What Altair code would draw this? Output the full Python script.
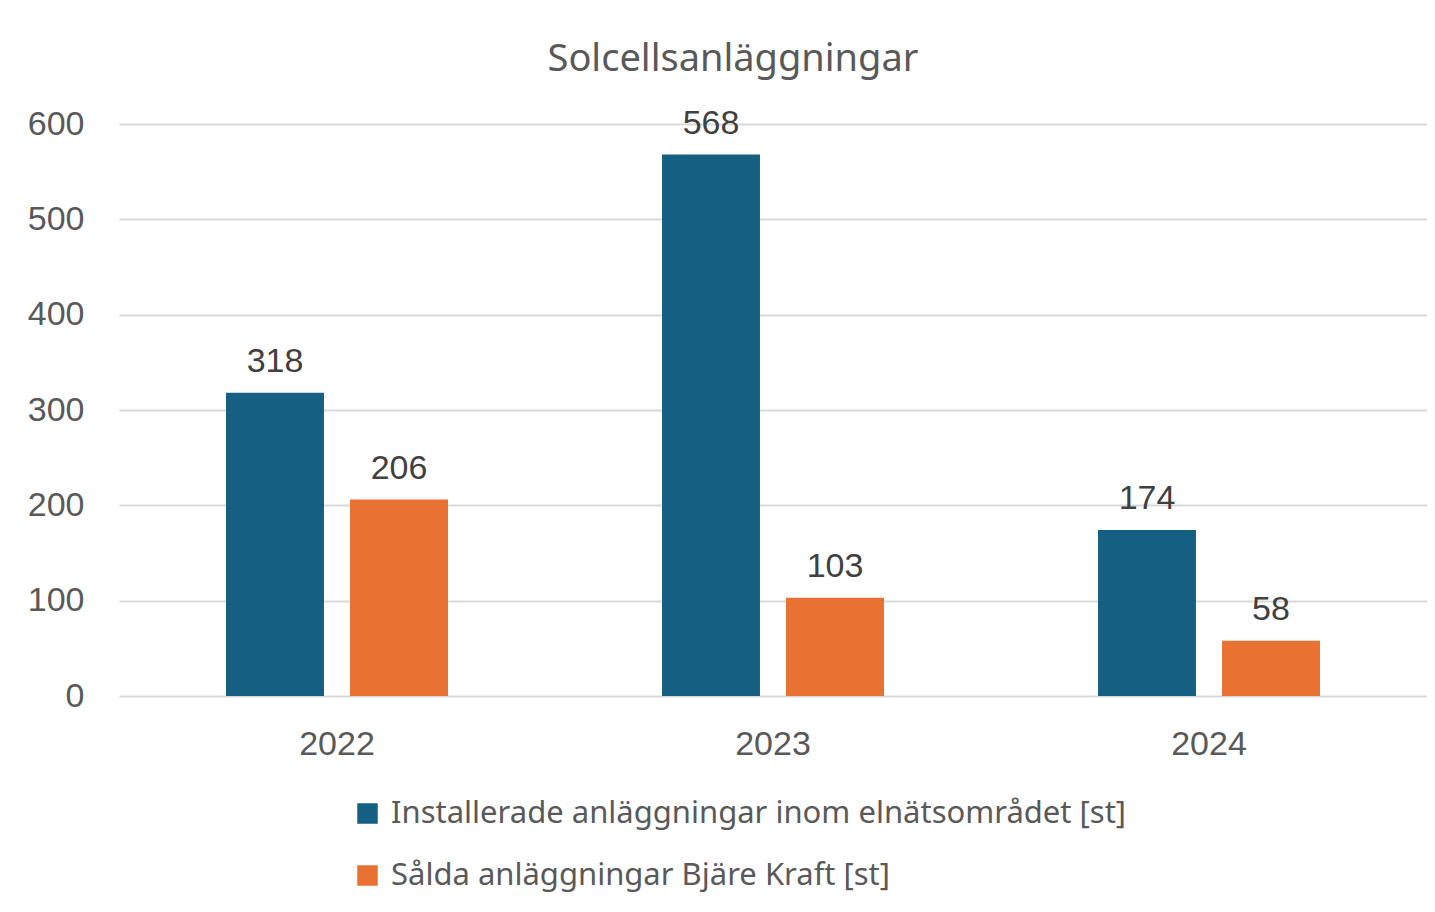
import altair as alt
import pandas as pd

years = ["2022", "2023", "2024"]
series = ["Installerade anläggningar inom elnätsområdet [st]", "Sålda anläggningar Bjäre Kraft [st]"]
installerade = [318, 568, 174]
salda = [206, 103, 58]
colors = ["#156082", "#E97132"]

rows = []
for i, y in enumerate(years):
    rows.append({"year": y, "series": series[0], "value": installerade[i]})
    rows.append({"year": y, "series": series[1], "value": salda[i]})
df = pd.DataFrame(rows)

num_font = "Liberation Sans"
txt_font = "Noto Sans"

x = alt.X("year:N", sort=years, title=None,
          scale=alt.Scale(paddingInner=0, paddingOuter=0),
          axis=alt.Axis(labelAngle=0, labelFont=num_font, labelFontSize=34,
                        labelColor="#595959", labelPadding=31, ticks=False,
                        domain=False, grid=False))
xo = alt.XOffset("series:N", sort=series,
                 scale=alt.Scale(paddingInner=0.21, paddingOuter=0.863))

bars = alt.Chart(df).mark_bar().encode(
    x=x,
    xOffset=xo,
    y=alt.Y("value:Q", title=None,
            scale=alt.Scale(domain=[0, 600], nice=False),
            axis=alt.Axis(values=[0, 100, 200, 300, 400, 500, 600],
                          labelFont=num_font, labelFontSize=34,
                          labelColor="#595959", labelPadding=35,
                          ticks=False, domain=False, gridColor="#D9D9D9",
                          gridWidth=2)),
    color=alt.Color("series:N", sort=series,
                    scale=alt.Scale(domain=series, range=colors),
                    legend=alt.Legend(title=None, orient="none",
                                      legendX=233, legendY=674,
                                      direction="vertical",
                                      symbolType="square", symbolSize=420,
                                      symbolStrokeWidth=0,
                                      labelFont=txt_font, labelFontSize=31,
                                      labelColor="#595959", labelOffset=8,
                                      rowPadding=30, labelLimit=1000)),
)

labels = alt.Chart(df).mark_text(baseline="bottom", dy=-14, font=num_font,
                                  fontSize=34, color="#404040").encode(
    x=alt.X("year:N", sort=years),
    xOffset=alt.XOffset("series:N", sort=series),
    y="value:Q",
    text="value:Q",
)

chart = alt.layer(bars, labels).properties(
    width=1308, height=572,
    padding={"left": 111, "top": 116, "right": 0, "bottom": 200},
    autosize=alt.AutoSizeParams(type="none"),
    title=alt.TitleParams("Solcellsanläggningar", font=txt_font, fontSize=38,
                          fontWeight="normal", color="#595959",
                          anchor="middle", offset=28, dx=-40),
).configure_view(stroke=None)

chart.save("out.html", embed_options={"renderer": "svg", "actions": False})
